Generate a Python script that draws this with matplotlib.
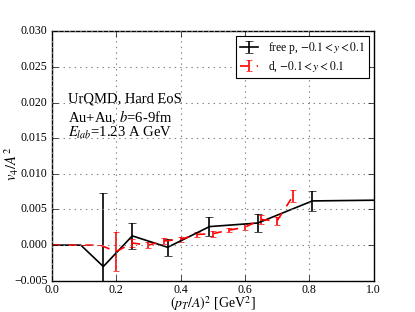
import matplotlib
matplotlib.use("Agg")
import matplotlib.pyplot as plt

# free protons
p_x = [0.0, 0.01, 0.04, 0.09, 0.16, 0.25, 0.36, 0.49, 0.64, 0.81, 1.0]
p_v4 = [0.0, 0.0, 0.0, 0.0, -0.0030, 0.0013, -0.0003, 0.0026, 0.0031, 0.0062, 0.0063]
p_err = [0.0, 0.0, 0.0, 0.0, 0.0103, 0.0018, 0.0012, 0.0013, 0.0013, 0.0014, 0.0]

# deuterons
d_x = [0.0, 0.05, 0.10, 0.15, 0.20, 0.25, 0.30, 0.35, 0.40, 0.45, 0.50, 0.55, 0.60, 0.65, 0.70, 0.75]
d_v4 = [0.0, 0.0, 0.0, 0.0, -0.0009, 0.0003, 0.0000, 0.0006, 0.0008, 0.0015, 0.0016,
        0.0021, 0.0025, 0.0036, 0.0034, 0.0069]
d_err = [0.0, 0.0, 0.0, 0.0, 0.0027, 0.0006, 0.0004, 0.0004, 0.0004, 0.0003, 0.0004,
         0.0003, 0.0004, 0.0006, 0.0006, 0.0008]

plt.style.use("classic")
plt.rcParams["font.family"] = "serif"
plt.rcParams["font.serif"] = ["Liberation Serif", "DejaVu Serif"]
plt.rcParams["mathtext.fontset"] = "stix"

fig = plt.figure(figsize=(4.15, 3.12), dpi=100, facecolor="white")
ax = fig.add_axes([0.125, 0.1, 0.775, 0.8])

ax.errorbar(p_x, p_v4, yerr=p_err, color="black", ecolor="black", lw=1.2,
            capsize=3, label=r"free p, $-0.1 < y < 0.1$")
ax.errorbar(d_x, d_v4, yerr=d_err, color="red", ecolor="red", lw=1.2, ls="--",
            capsize=2, label=r"d, $-0.1 < y < 0.1$")

ax.set_xlim(0, 1.0)
ax.set_ylim(-0.005, 0.030)
ax.set_xticks([0.0, 0.2, 0.4, 0.6, 0.8, 1.0])
ax.set_yticks([-0.005, 0.0, 0.005, 0.010, 0.015, 0.020, 0.025, 0.030])
ax.set_yticklabels(["\u22120.005", "0.000", "0.005", "0.010", "0.015", "0.020", "0.025", "0.030"])
ax.tick_params(labelsize=8.5, pad=3)
ax.tick_params(axis="x", pad=2)
ax.grid(True, color="gray", ls=":", lw=0.8)

ax.set_xlabel(r"$(p_T/A)^2$ [GeV$^2$]", fontsize=10)
ax.set_ylabel(r"$v_4/A^2$", fontsize=10.5)
ax.xaxis.set_label_coords(0.5, -0.055)
ax.yaxis.set_label_coords(-0.095, 0.47)

ax.text(0.05, 0.727, "UrQMD, Hard EoS", transform=ax.transAxes, fontsize=10.5, va="center")
ax.text(0.05, 0.655, r"Au+Au, $b$=6-9fm", transform=ax.transAxes, fontsize=10.5, va="center")
ax.text(0.05, 0.592, r"$E_{lab}$=1.23 A GeV", transform=ax.transAxes, fontsize=10.5, va="center")

leg = ax.legend(loc="upper right", fontsize=8.3, borderaxespad=0.4, numpoints=1,
                handlelength=1.6, labelspacing=0.3, borderpad=0.35)
leg.get_frame().set_linewidth(0.8)

fig.savefig("out.png", dpi=100, facecolor="white")
